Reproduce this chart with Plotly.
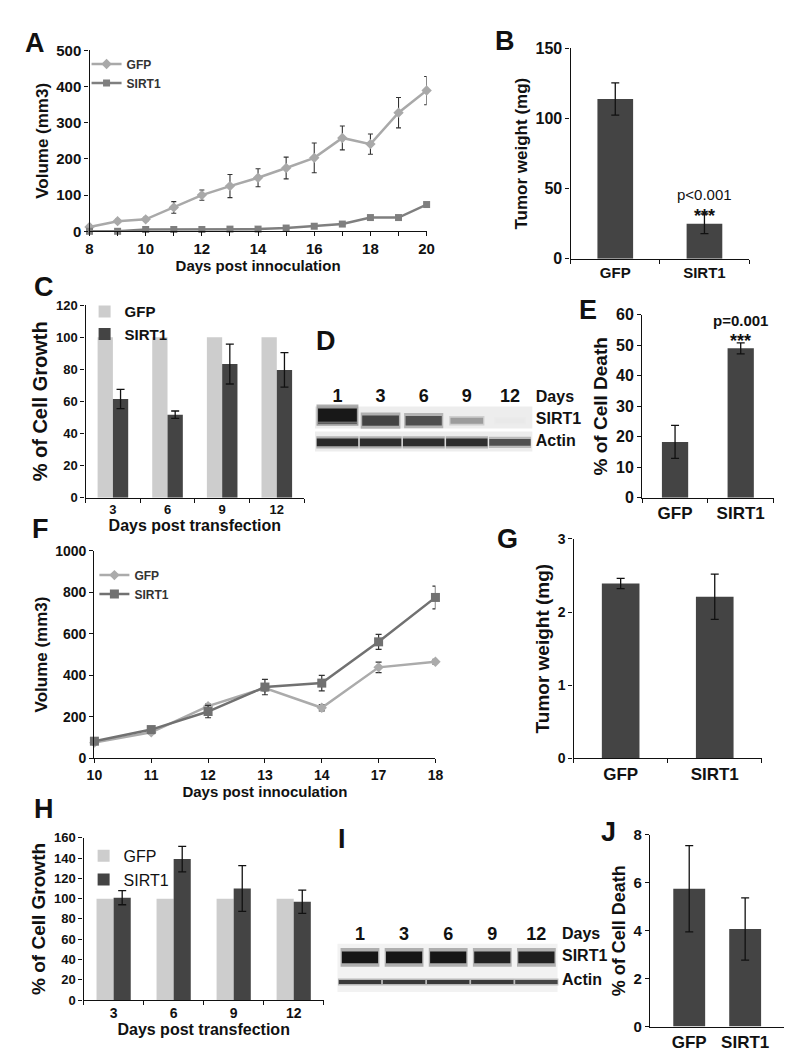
import plotly.graph_objects as go

W, H = 800, 1060
FONT = "Liberation Sans, Arial, Helvetica, sans-serif"
INK = "#111111"
DARK = "#444444"
LIGHT = "#cdcdcd"

# ---------------- data ----------------
# A: tumour volume (GFP vs SIRT1)
A_days = [8, 9, 10, 11, 12, 13, 14, 15, 16, 17, 18, 19, 20]
A_xticklabels = ["8", "", "10", "", "12", "", "14", "", "16", "", "18", "", "20"]
A_gfp = [12, 28, 33, 66, 100, 125, 148, 175, 203, 258, 241, 328, 389]
A_gfp_err = [5, 5, 6, 16, 14, 32, 25, 30, 41, 33, 28, 42, 39]
A_sirt1 = [0, 0, 5, 5, 5, 6, 6, 9, 14, 20, 38, 38, 74]

# B: tumour weight
B_groups = ["GFP", "SIRT1"]
B_values = [114, 25]
B_err = [11.5, 7]

# C: % cell growth
C_days = ["3", "6", "9", "12"]
C_gfp = [100, 100, 100, 100]
C_sirt1 = [61.5, 51.7, 83.2, 79.6]
C_sirt1_err = [6, 2.3, 12.4, 10.7]

# D: western blot (relative band intensity)
D_lanes = ["1", "3", "6", "9", "12"]
D_rows = ["Days", "SIRT1", "Actin"]
D_sirt1_level = [1.0, 0.8, 0.75, 0.4, 0.05]
D_actin_level = [0.92, 0.9, 0.9, 0.9, 0.75]

# E: % cell death
E_groups = ["GFP", "SIRT1"]
E_values = [18.3, 49]
E_err = [5.4, 1.8]

# F: tumour volume (second model)
F_days = ["10", "11", "12", "13", "14", "17", "18"]
F_gfp = [75, 125, 251, 338, 243, 438, 465]
F_gfp_err = [8, 8, 10, 12, 15, 25, 12]
F_sirt1 = [82, 138, 225, 343, 362, 561, 775]
F_sirt1_err = [10, 10, 30, 37, 37, 36, 55]

# G: tumour weight
G_groups = ["GFP", "SIRT1"]
G_values = [2.39, 2.21]
G_err = [0.07, 0.31]

# H: % cell growth
H_days = ["3", "6", "9", "12"]
H_gfp = [100, 100, 100, 100]
H_sirt1 = [101, 139, 110, 97]
H_sirt1_err = [7, 12.5, 22.5, 11.5]

# I: western blot
I_lanes = ["1", "3", "6", "9", "12"]
I_rows = ["Days", "SIRT1", "Actin"]
I_sirt1_level = [1.0, 1.0, 1.0, 0.95, 0.95]
I_actin_level = [0.85, 0.85, 0.85, 0.85, 0.8]

# J: % cell death
J_groups = ["GFP", "SIRT1"]
J_values = [5.75, 4.07]
J_err = [1.8, 1.3]


# ---------------- helpers ----------------
def dx(a, b):
    return [a / W, b / W]


def dy(top, bottom):
    return [1 - bottom / H, 1 - top / H]


def f(size, bold=True, color=INK):
    return dict(family=FONT, size=size, color=color, weight="bold" if bold else "normal")


def ax(size, dom, anchor, **kw):
    d = dict(domain=dom, anchor=anchor, showline=True, linecolor=INK, linewidth=1.4,
             ticks="outside", ticklen=4, tickwidth=1.4, tickcolor=INK,
             showgrid=False, zeroline=False, tickfont=f(size), fixedrange=True)
    d.update(kw)
    return d


def ttl(text, size, standoff=3):
    return dict(text=text, font=f(size), standoff=standoff)


def err(arr, width=4, color=INK, thick=1.3):
    return dict(type="data", array=arr, visible=True, color=color, thickness=thick, width=width)


fig = go.Figure()

# ---------- A ----------
fig.add_trace(go.Scatter(x=A_days, y=A_gfp, name="GFP", mode="lines+markers",
                         line=dict(color="#a9a9a9", width=2.5),
                         marker=dict(symbol="diamond", size=8, color="#a9a9a9"),
                         error_y=err(A_gfp_err, width=2.5, color="#333333", thick=1.1),
                         xaxis="x", yaxis="y", legend="legend", cliponaxis=False))
fig.add_trace(go.Scatter(x=A_days, y=A_sirt1, name="SIRT1", mode="lines+markers",
                         line=dict(color="#7f7f7f", width=2.5),
                         marker=dict(symbol="square", size=7, color="#7f7f7f"),
                         xaxis="x", yaxis="y", legend="legend", cliponaxis=False))

# ---------- B ----------
fig.add_trace(go.Bar(x=B_groups, y=B_values, width=0.4, marker=dict(color=DARK, line=dict(width=0)),
                     error_y=err(B_err, width=4), showlegend=False, xaxis="x2", yaxis="y2"))

# ---------- C ----------
fig.add_trace(go.Bar(x=C_days, y=C_gfp, name="GFP", width=0.28, offset=-0.28,
                     marker=dict(color=LIGHT, line=dict(width=0)),
                     xaxis="x3", yaxis="y3", legend="legend2"))
fig.add_trace(go.Bar(x=C_days, y=C_sirt1, name="SIRT1", width=0.28, offset=0,
                     marker=dict(color=DARK, line=dict(width=0)),
                     error_y=err(C_sirt1_err, width=4),
                     xaxis="x3", yaxis="y3", legend="legend2"))

# ---------- D (blot labels; lanes at 0..4, SIRT1 row at y=1, Actin row at y=0) ----------
fig.add_trace(go.Scatter(x=list(range(len(D_lanes))), y=[2.0] * len(D_lanes), text=D_lanes,
                         mode="text", textfont=f(18), showlegend=False, hoverinfo="skip",
                         xaxis="x4", yaxis="y4", cliponaxis=False))
fig.add_trace(go.Scatter(x=[4.6] * 3, y=[2.0, 1.0, 0.0], text=D_rows, mode="text",
                         textposition="middle right", textfont=f(16), showlegend=False,
                         hoverinfo="skip", xaxis="x4", yaxis="y4", cliponaxis=False))

# ---------- E ----------
fig.add_trace(go.Bar(x=E_groups, y=E_values, width=0.4, marker=dict(color=DARK, line=dict(width=0)),
                     error_y=err(E_err, width=4), showlegend=False, xaxis="x5", yaxis="y5"))

# ---------- F ----------
fig.add_trace(go.Scatter(x=F_days, y=F_gfp, name="GFP", mode="lines+markers",
                         line=dict(color="#ababab", width=2.5),
                         marker=dict(symbol="diamond", size=8, color="#ababab"),
                         error_y=err(F_gfp_err, width=3, color="#333333", thick=1.2),
                         xaxis="x6", yaxis="y6", legend="legend3", cliponaxis=False))
fig.add_trace(go.Scatter(x=F_days, y=F_sirt1, name="SIRT1", mode="lines+markers",
                         line=dict(color="#717171", width=2.5),
                         marker=dict(symbol="square", size=9, color="#717171"),
                         error_y=err(F_sirt1_err, width=3, color="#333333", thick=1.2),
                         xaxis="x6", yaxis="y6", legend="legend3", cliponaxis=False))

# ---------- G ----------
fig.add_trace(go.Bar(x=G_groups, y=G_values, width=0.4, marker=dict(color=DARK, line=dict(width=0)),
                     error_y=err(G_err, width=4), showlegend=False, xaxis="x7", yaxis="y7"))

# ---------- H ----------
fig.add_trace(go.Bar(x=H_days, y=H_gfp, name="GFP", width=0.285, offset=-0.285,
                     marker=dict(color=LIGHT, line=dict(width=0)),
                     xaxis="x8", yaxis="y8", legend="legend4"))
fig.add_trace(go.Bar(x=H_days, y=H_sirt1, name="SIRT1", width=0.285, offset=0,
                     marker=dict(color=DARK, line=dict(width=0)),
                     error_y=err(H_sirt1_err, width=4),
                     xaxis="x8", yaxis="y8", legend="legend4"))

# ---------- I (blot labels) ----------
fig.add_trace(go.Scatter(x=list(range(len(I_lanes))), y=[1.9] * len(I_lanes), text=I_lanes,
                         mode="text", textfont=f(18), showlegend=False, hoverinfo="skip",
                         xaxis="x9", yaxis="y9", cliponaxis=False))
fig.add_trace(go.Scatter(x=[4.58] * 3, y=[1.9, 1.0, 0.05], text=I_rows, mode="text",
                         textposition="middle right", textfont=f(16), showlegend=False,
                         hoverinfo="skip", xaxis="x9", yaxis="y9", cliponaxis=False))

# ---------- J ----------
fig.add_trace(go.Bar(x=[0, 1], y=J_values, width=0.57, marker=dict(color=DARK, line=dict(width=0)),
                     error_y=err(J_err, width=4), showlegend=False, xaxis="x10", yaxis="y10"))

# ---------------- blot shapes ----------------
shapes = []


def gray(level):
    g = int(245 - 228 * level)
    return f"rgb({g},{g},{g})"


def rect(xr, yr, x0, x1, y0, y1, color, opacity=1.0):
    shapes.append(dict(type="rect", xref=xr, yref=yr, x0=x0, x1=x1, y0=y0, y1=y1,
                       fillcolor=color, opacity=opacity, line=dict(width=0), layer="below"))


# D background strips
rect("x4", "y4", -0.52, 4.52, 0.62, 1.6, "#ededed")
rect("x4", "y4", -0.52, 4.52, -0.43, 0.48, "#ededed")
for i, lv in enumerate(D_sirt1_level):
    hw = 0.33 + 0.12 * lv
    hh = 0.1 + 0.2 * lv * lv
    cy = 0.97 + 0.25 * lv * lv * (1 if i == 0 else 0)
    rect("x4", "y4", i - hw * 1.08, i + hw * 1.08, cy - hh * 1.6, cy + hh * 1.6, gray(lv), 0.35)
    rect("x4", "y4", i - hw, i + hw, cy - hh, cy + hh, gray(lv), 0.95)
    if i == 0:
        rect("x4", "y4", i - hw, i + hw, 0.82, 0.9, gray(0.7), 0.9)
for i, lv in enumerate(D_actin_level):
    hh = 0.08 + 0.1 * lv
    rect("x4", "y4", i - 0.49, i + 0.49, -hh * 1.6, hh * 1.6, gray(lv), 0.3)
    rect("x4", "y4", i - 0.48, i + 0.48, -hh, hh, gray(lv), 0.95)

# I background
rect("x9", "y9", -0.52, 4.48, -0.42, 1.56, "#f2f2f2")
for i, lv in enumerate(I_sirt1_level):
    rect("x9", "y9", i - 0.44, i + 0.44, 1.0 - 0.38, 1.0 + 0.38, gray(lv), 0.3)
    rect("x9", "y9", i - 0.41, i + 0.41, 1.0 - 0.24, 1.0 + 0.24, gray(lv), 0.97)
for i, lv in enumerate(I_actin_level):
    rect("x9", "y9", i - 0.5, i + 0.5, -0.14, 0.14, gray(lv), 0.3)
    rect("x9", "y9", i - 0.48, i + 0.48, -0.08, 0.08, gray(lv), 0.95)

# ---------------- annotations ----------------
ann = []
for lab, (px, py) in {"A": (19, 26), "B": (499, 24), "C": (29, 275), "D": (316, 330),
                      "E": (584, 298), "F": (25, 521), "G": (502, 531), "H": (29, 806),
                      "I": (333, 836), "J": (605, 829)}.items():
    ann.append(dict(text=lab, x=px / W, y=1 - py / H, xref="paper", yref="paper",
                    xanchor="center", yanchor="middle", showarrow=False, font=f(27)))

ann.append(dict(text="p<0.001", x="SIRT1", y=B_values[1] + B_err[1], xref="x2", yref="y2",
                yanchor="middle", yshift=19, showarrow=False, font=f(15, bold=False)))
ann.append(dict(text="***", x="SIRT1", y=B_values[1] + B_err[1], xref="x2", yref="y2",
                yanchor="middle", yshift=-2, showarrow=False, font=f(18)))
ann.append(dict(text="p=0.001", x="SIRT1", y=E_values[1] + E_err[1], xref="x5", yref="y5",
                yanchor="middle", yshift=22, showarrow=False, font=f(15)))
ann.append(dict(text="***", x="SIRT1", y=E_values[1] + E_err[1], xref="x5", yref="y5",
                yanchor="middle", yshift=2, showarrow=False, font=f(18)))

leg_common = dict(xanchor="left", yanchor="top", bgcolor="rgba(0,0,0,0)",
                  itemwidth=30, tracegroupgap=0, traceorder="normal")

fig.update_layout(
    width=W, height=H, margin=dict(l=0, r=0, t=0, b=0),
    paper_bgcolor="white", plot_bgcolor="rgba(0,0,0,0)",
    barmode="overlay", font=f(14),
    shapes=shapes, annotations=ann,
    legend=dict(x=72 / W, y=1 - 33 / H, font=f(12, color="#333333"), **leg_common),
    legend2=dict(x=70 / W, y=1 - 283 / H, font=f(15), **leg_common),
    legend3=dict(x=80 / W, y=1 - 553 / H, font=f(12, color="#333333"), **leg_common),
    legend4=dict(x=69 / W, y=1 - 836 / H, font=f(16, bold=False), **leg_common),
    # A
    xaxis=ax(15, dx(75, 419), "y", range=[8, 20], tickvals=A_days, ticktext=A_xticklabels,
             title=ttl("Days post innoculation", 15, 0)),
    yaxis=ax(15, dy(34, 218), "x", range=[0, 500], tickvals=[0, 100, 200, 300, 400, 500],
             title=ttl("Volume (mm3)", 17)),
    # B
    xaxis2=ax(15, dx(566, 748), "y2", type="category", range=[-0.5, 1.5], tickson="boundaries"),
    yaxis2=ax(16, dy(32, 246), "x2", range=[0, 150], tickvals=[0, 50, 100, 150],
              title=ttl("Tumor weight (mg)", 17)),
    # C
    xaxis3=ax(13, dx(71, 294), "y3", type="category", range=[-0.5, 3.5], tickson="boundaries",
              title=ttl("Days post transfection", 16, 0)),
    yaxis3=ax(13, dy(293, 489), "x3", range=[0, 120], dtick=20, title=ttl("% of Cell Growth", 20)),
    # D blot: lanes at 328 + 44*i px; rows at 432.7 - 22.7*y px
    xaxis4=dict(domain=dx(305, 580), anchor="y4", range=[-0.523, 5.727], visible=False, fixedrange=True),
    yaxis4=dict(domain=dy(375, 442), anchor="x4", range=[-0.41, 2.54], visible=False, fixedrange=True),
    # E
    xaxis5=ax(17, dx(639, 773), "y5", type="category", range=[-0.5, 1.5], tickson="boundaries"),
    yaxis5=ax(16, dy(303, 489), "x5", range=[0, 60], dtick=10, title=ttl("% of Cell Death", 19)),
    # F
    xaxis6=ax(14, dx(80, 428), "y6", type="category", range=[0, 6],
              title=ttl("Days post innoculation", 15, 0)),
    yaxis6=ax(14, dy(543, 754), "x6", range=[0, 1000], dtick=200, title=ttl("Volume (mm3)", 17)),
    # G
    xaxis7=ax(17, dx(569, 761), "y7", type="category", range=[-0.5, 1.5], tickson="boundaries"),
    yaxis7=ax(14, dy(531, 754), "x7", range=[0, 3], dtick=1, title=ttl("Tumor weight (mg)", 19)),
    # H
    xaxis8=ax(14, dx(69, 314), "y8", type="category", range=[-0.5, 3.5], tickson="boundaries",
              title=ttl("Days post transfection", 16, 0)),
    yaxis8=ax(13, dy(835, 1000), "x8", range=[0, 160], dtick=20, title=ttl("% of Cell Growth", 19)),
    # I blot: lanes at 351 + 45*i px; rows at 981.7 - 25*y px
    xaxis9=dict(domain=dx(328, 605), anchor="y9", range=[-0.511, 5.644], visible=False, fixedrange=True),
    yaxis9=dict(domain=dy(920, 992), anchor="x9", range=[-0.412, 2.468], visible=False, fixedrange=True),
    # J
    xaxis10=ax(17, dx(647, 784), "y10", range=[-0.7, 1.7], tickvals=[0, 1], ticktext=J_groups,
               ticks=""),
    yaxis10=ax(15, dy(832, 1027), "x10", range=[0, 8], dtick=2, title=ttl("% of Cell Death", 18)),
)

fig.write_html("out.html")
